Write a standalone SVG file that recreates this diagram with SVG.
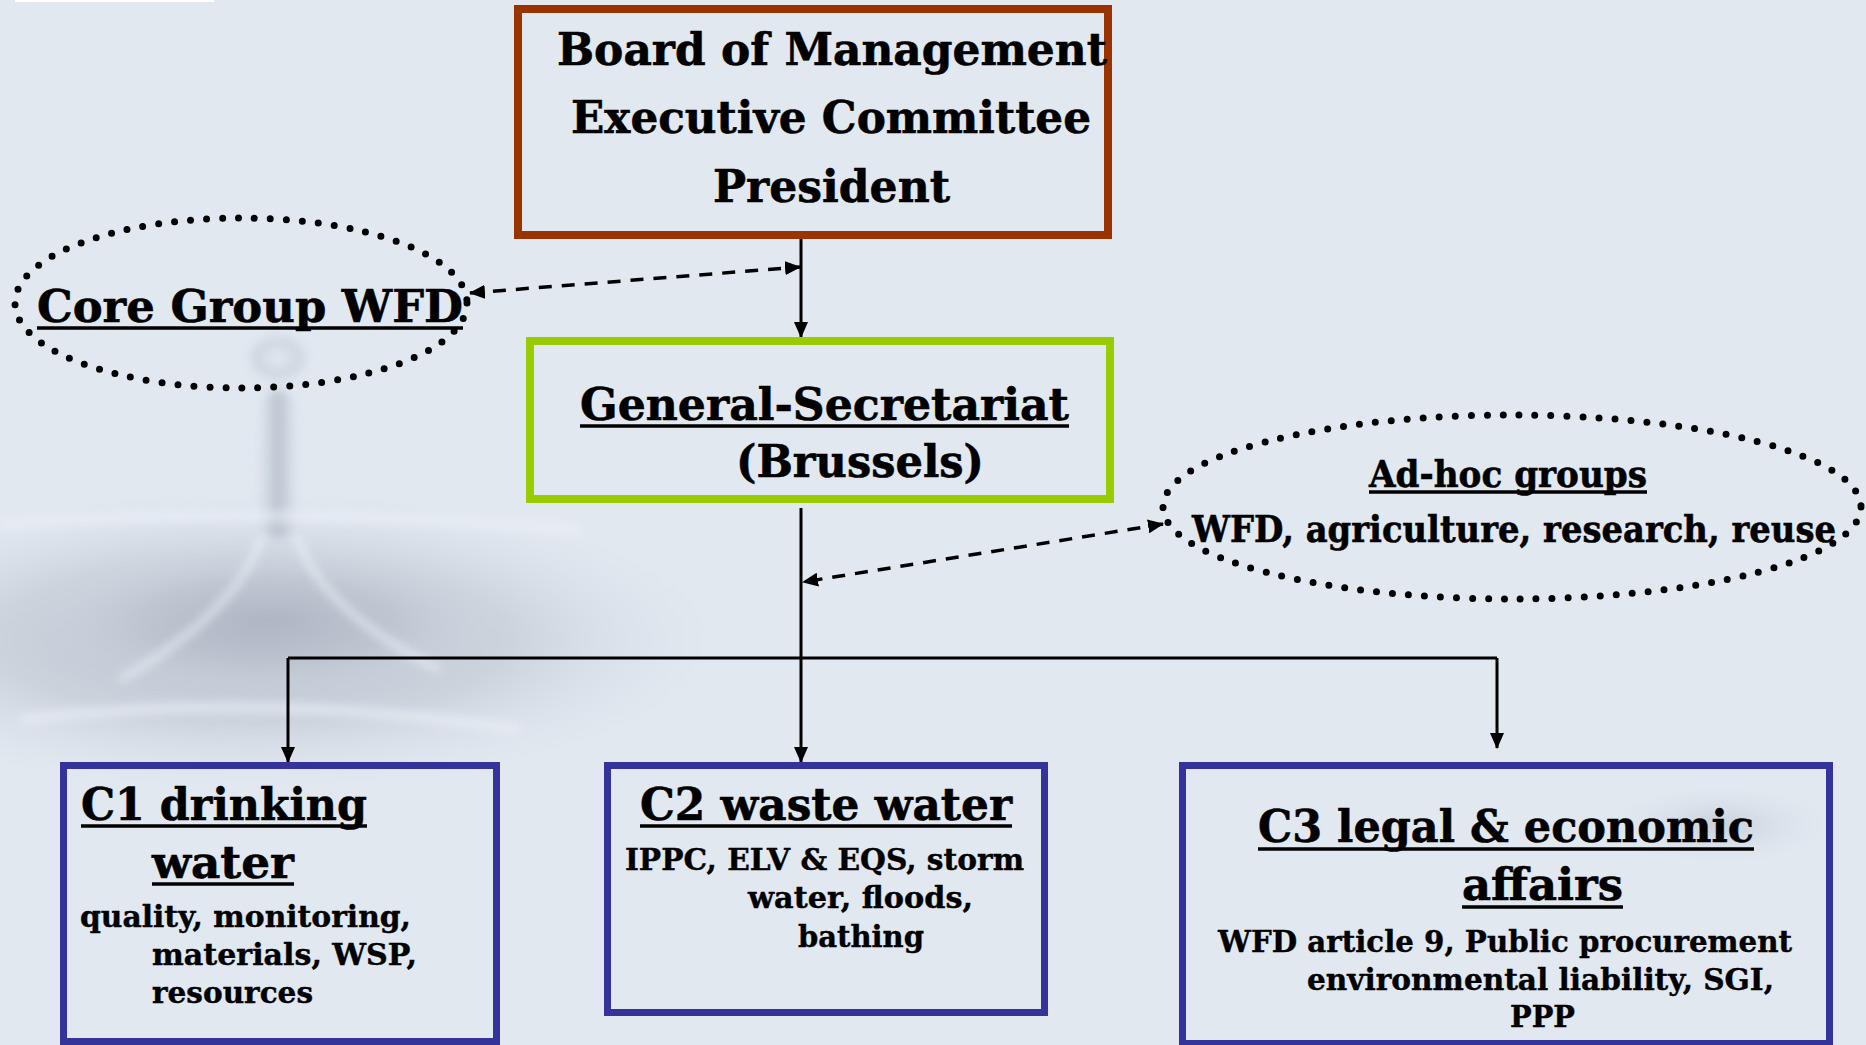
<svg xmlns="http://www.w3.org/2000/svg" width="1866" height="1045" viewBox="0 0 1866 1045">
<defs>
<style>
.t{font-family:"DejaVu Serif","Liberation Serif",serif;font-weight:bold;fill:#000;stroke:#000;stroke-width:0.6}
.big{font-size:45px}
.mid{font-size:37px}
.sm{font-size:29px;stroke-width:0.4}
.ul{stroke:#000;stroke-width:3.5}
.box{fill:none}
.dot{fill:none;stroke:#000;stroke-width:7;stroke-dasharray:0 16;stroke-linecap:round}
.con{stroke:#000;stroke-width:3;fill:none}
.dash{stroke:#000;stroke-width:3.5;fill:none;stroke-dasharray:13 10}
.crest{fill:none;stroke:#EEF2F6;stroke-opacity:0.6}
</style>
<marker id="ah" markerUnits="userSpaceOnUse" markerWidth="16" markerHeight="14" refX="15" refY="7" orient="auto-start-reverse">
<path d="M0,0 L16,7 L0,14 z" fill="#000"/>
</marker>
<filter id="soft" x="-10%" y="-10%" width="120%" height="120%">
<feGaussianBlur stdDeviation="5"/>
</filter>
<radialGradient id="pool" cx="0.5" cy="0.5" r="0.5">
<stop offset="0" stop-color="#AAB3C0" stop-opacity="0.8"/>
<stop offset="0.55" stop-color="#BAC2CE" stop-opacity="0.55"/>
<stop offset="1" stop-color="#D5DDE7" stop-opacity="0"/>
</radialGradient>
<linearGradient id="stem" x1="0" y1="0" x2="1" y2="0">
<stop offset="0" stop-color="#C3CBD6" stop-opacity="0"/>
<stop offset="0.5" stop-color="#AFB8C4" stop-opacity="0.8"/>
<stop offset="1" stop-color="#C3CBD6" stop-opacity="0"/>
</linearGradient>
<radialGradient id="blob" cx="0.5" cy="0.5" r="0.5">
<stop offset="0" stop-color="#E8EDF3" stop-opacity="0.6"/>
<stop offset="0.7" stop-color="#BEC6D1" stop-opacity="0.6"/>
<stop offset="1" stop-color="#D5DDE7" stop-opacity="0"/>
</radialGradient>
<radialGradient id="rip" cx="0.5" cy="0.5" r="0.5">
<stop offset="0" stop-color="#B7C0CC" stop-opacity="0.6"/>
<stop offset="1" stop-color="#D5DDE7" stop-opacity="0"/>
</radialGradient>
</defs>
<rect x="0" y="0" width="1866" height="1045" fill="#E1E8F0"/>
<g id="background">
<ellipse cx="250" cy="640" rx="470" ry="150" fill="url(#pool)"/>
<ellipse cx="270" cy="620" rx="230" ry="75" fill="url(#pool)"/>
<g filter="url(#soft)">
<path d="M262,400 Q278,380 294,400 L300,530 Q278,545 256,530 Z" fill="url(#stem)"/>
<ellipse cx="278" cy="358" rx="33" ry="26" fill="url(#blob)"/>
<path class="crest" d="M262,535 Q240,610 120,680" stroke-width="8"/>
<path class="crest" d="M296,535 Q320,610 440,670" stroke-width="8"/>
<path class="crest" d="M0,525 Q260,505 580,530" stroke-width="10" stroke-opacity="0.4"/>
<path class="crest" d="M20,720 Q260,690 520,730" stroke-width="10" stroke-opacity="0.3"/>
</g>
<ellipse cx="1720" cy="825" rx="110" ry="40" fill="url(#rip)"/>
<rect x="15" y="0" width="199" height="2" fill="#FFFFFF"/>
</g>
<g id="connectors">
<line class="con" x1="801" y1="239" x2="801" y2="337" marker-end="url(#ah)"/>
<line class="dash" x1="470" y1="293" x2="800" y2="267" marker-start="url(#ah)" marker-end="url(#ah)"/>
<line class="con" x1="801" y1="508" x2="801" y2="762" marker-end="url(#ah)"/>
<line class="dash" x1="1163" y1="524" x2="803" y2="582" marker-start="url(#ah)" marker-end="url(#ah)"/>
<line class="con" x1="288" y1="658" x2="1497" y2="658" stroke-width="3.5"/>
<line class="con" x1="288" y1="658" x2="288" y2="762" marker-end="url(#ah)"/>
<line class="con" x1="1497" y1="658" x2="1497" y2="748" marker-end="url(#ah)"/>
</g>
<g id="board">
<rect class="box" x="518" y="9" width="590" height="226" stroke="#993300" stroke-width="8"/>
<text class="t big" x="557" y="65" textLength="550" lengthAdjust="spacingAndGlyphs">Board of Management</text>
<text class="t big" x="571" y="133" textLength="520" lengthAdjust="spacingAndGlyphs">Executive Committee</text>
<text class="t big" x="713" y="202" textLength="237" lengthAdjust="spacingAndGlyphs">President</text>
</g>
<g id="core-group">
<ellipse class="dot" cx="241" cy="303" rx="226" ry="85"/>
<text class="t big" x="37" y="322" textLength="426" lengthAdjust="spacingAndGlyphs">Core Group WFD</text>
<line class="ul" x1="37" y1="328" x2="463" y2="328"/>
</g>
<g id="secretariat">
<rect class="box" x="530" y="341" width="580" height="158" stroke="#99CC00" stroke-width="8"/>
<text class="t big" x="580" y="420" textLength="489" lengthAdjust="spacingAndGlyphs">General-Secretariat</text>
<line class="ul" x1="580" y1="426" x2="1069" y2="426"/>
<text class="t big" x="736" y="477" textLength="248" lengthAdjust="spacingAndGlyphs">(Brussels)</text>
</g>
<g id="adhoc">
<ellipse class="dot" cx="1512" cy="507" rx="349" ry="92"/>
<text class="t mid" x="1369" y="487" textLength="278" lengthAdjust="spacingAndGlyphs">Ad-hoc groups</text>
<line class="ul" x1="1369" y1="492" x2="1647" y2="492"/>
<text class="t mid" x="1192" y="542" textLength="644" lengthAdjust="spacingAndGlyphs">WFD, agriculture, research, reuse</text>
</g>
<g id="c1">
<rect class="box" x="63.5" y="765.5" width="433" height="276" stroke="#333399" stroke-width="7"/>
<text class="t big" x="81" y="820" textLength="286" lengthAdjust="spacingAndGlyphs">C1 drinking</text>
<line class="ul" x1="81" y1="826" x2="367" y2="826"/>
<text class="t big" x="152" y="878" textLength="142" lengthAdjust="spacingAndGlyphs">water</text>
<line class="ul" x1="152" y1="884" x2="294" y2="884"/>
<text class="t sm" x="80" y="927" textLength="331" lengthAdjust="spacingAndGlyphs">quality, monitoring,</text>
<text class="t sm" x="152" y="965" textLength="265" lengthAdjust="spacingAndGlyphs">materials, WSP,</text>
<text class="t sm" x="152" y="1003" textLength="161" lengthAdjust="spacingAndGlyphs">resources</text>
</g>
<g id="c2">
<rect class="box" x="607.5" y="765.5" width="437" height="247" stroke="#333399" stroke-width="7"/>
<text class="t big" x="640" y="820" textLength="372" lengthAdjust="spacingAndGlyphs">C2 waste water</text>
<line class="ul" x1="640" y1="826" x2="1012" y2="826"/>
<text class="t sm" x="625" y="870" textLength="399" lengthAdjust="spacingAndGlyphs">IPPC, ELV &amp; EQS, storm</text>
<text class="t sm" x="748" y="908" textLength="225" lengthAdjust="spacingAndGlyphs">water, floods,</text>
<text class="t sm" x="798" y="947" textLength="126" lengthAdjust="spacingAndGlyphs">bathing</text>
</g>
<g id="c3">
<rect class="box" x="1182.5" y="765.5" width="647" height="278" stroke="#333399" stroke-width="7"/>
<text class="t big" x="1258" y="842" textLength="496" lengthAdjust="spacingAndGlyphs">C3 legal &amp; economic</text>
<line class="ul" x1="1258" y1="849" x2="1754" y2="849"/>
<text class="t big" x="1462" y="900" textLength="161" lengthAdjust="spacingAndGlyphs">affairs</text>
<line class="ul" x1="1462" y1="907" x2="1623" y2="907"/>
<text class="t sm" x="1218" y="952" textLength="574" lengthAdjust="spacingAndGlyphs">WFD article 9, Public procurement</text>
<text class="t sm" x="1307" y="990" textLength="467" lengthAdjust="spacingAndGlyphs">environmental liability, SGI,</text>
<text class="t sm" x="1510" y="1027" textLength="65" lengthAdjust="spacingAndGlyphs">PPP</text>
</g>
</svg>
